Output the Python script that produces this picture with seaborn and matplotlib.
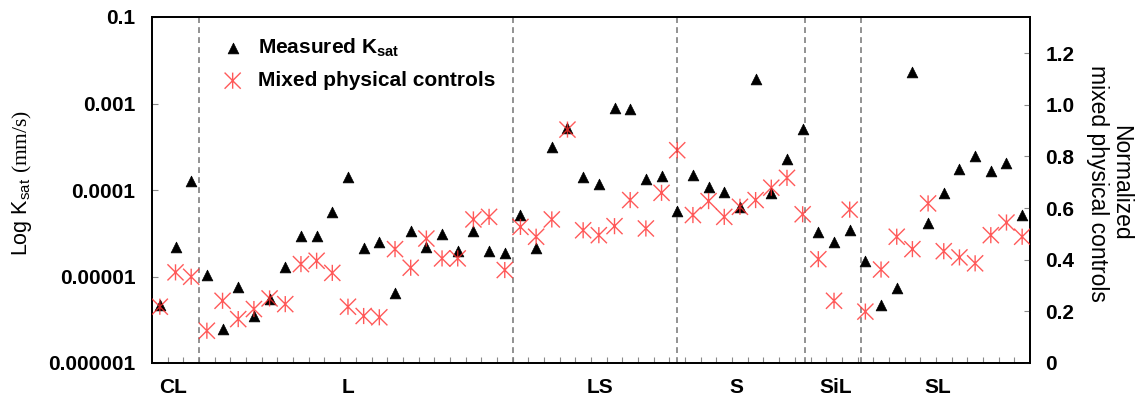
import numpy as np
import pandas as pd
import matplotlib
matplotlib.use("Agg")
import matplotlib.pyplot as plt
from matplotlib.path import Path
from matplotlib.ticker import NullLocator
import seaborn as sns

# ---- data -----------------------------------------------------------------
textures = ["CL", "L", "LS", "S", "SiL", "SL"]
samples_per_texture = [3, 20, 10, 9, 3, 11]

# measured saturated hydraulic conductivity (mm/s)
measured_ksat = [
    4.7e-6, 2.2e-5, 1.28e-4,
    1.05e-5, 2.46e-6, 7.5e-6, 3.5e-6, 5.5e-6, 1.3e-5, 2.94e-5, 2.94e-5, 5.5e-5, 1.4e-4,
    2.12e-5, 2.52e-5, 6.4e-6, 3.36e-5, 2.2e-5, 3.08e-5, 1.99e-5, 3.36e-5, 1.99e-5, 1.85e-5,
    5.14e-5, 2.12e-5, 3.16e-4, 5.16e-4, 1.43e-4, 1.16e-4, 8.95e-4, 8.63e-4, 1.33e-4, 1.45e-4,
    5.77e-5, 1.49e-4, 1.07e-4, 9.55e-5, 6.3e-5, 1.9e-3, 9.3e-5, 2.26e-4, 5.1e-4,
    3.3e-5, 2.52e-5, 3.45e-5,
    1.52e-5, 4.7e-6, 7.3e-6, 2.29e-3, 4.12e-5, 9.3e-5, 1.73e-4, 2.47e-4, 1.67e-4, 2.04e-4, 5.2e-5,
]

# normalized mixed physical controls
mixed_controls = [
    0.218, 0.351, 0.334,
    0.125, 0.241, 0.170, 0.209, 0.250, 0.228, 0.383, 0.396, 0.349, 0.218,
    0.182, 0.177, 0.441, 0.369, 0.482, 0.405, 0.405, 0.556, 0.566, 0.360,
    0.527, 0.489, 0.556, 0.904, 0.514, 0.495, 0.530, 0.631, 0.521, 0.659,
    0.824, 0.573, 0.627, 0.566, 0.605, 0.631, 0.679, 0.717, 0.576,
    0.402, 0.241, 0.594,
    0.199, 0.362, 0.489, 0.441, 0.618, 0.433, 0.409, 0.386, 0.495, 0.544, 0.489,
]

ksat_ticks = [1e-6, 1e-5, 1e-4, 1e-3, 1e-2]
ksat_tick_labels = ["0.000001", "0.00001", "0.0001", "0.001", "0.1"]
control_ticks = [0, 0.2, 0.4, 0.6, 0.8, 1.0, 1.2]
control_tick_labels = ["0", "0.2", "0.4", "0.6", "0.8", "1.0", "1.2"]

# ---- layout ---------------------------------------------------------------
texture_label_pos = [0.85, 12.0, 28.05, 36.75, 43.1, 49.6]
divider_pos = [2.5, 22.5, 33.0, 41.15, 44.72]

df = pd.DataFrame({
    "sample": np.arange(len(measured_ksat)),
    "texture": np.repeat(textures, samples_per_texture),
    "ksat": measured_ksat,
    "controls": mixed_controls,
})

sns.set_style("white")
plt.rcParams["font.family"] = ["Liberation Sans", "DejaVu Sans"]
plt.rcParams["mathtext.fontset"] = "custom"
plt.rcParams["mathtext.rm"] = "Liberation Serif"
plt.rcParams["mathtext.sf"] = "Liberation Sans"
plt.rcParams["mathtext.bf"] = "Liberation Sans:bold"
for key in ("text.color", "axes.labelcolor", "xtick.labelcolor", "ytick.labelcolor"):
    plt.rcParams[key] = "black"

W, H = 1138, 398
fig = plt.figure(figsize=(W / 100, H / 100), dpi=100)
ax = fig.add_axes([152 / W, 35 / H, 878 / W, 346 / H])
ax2 = ax.twinx()

# texture class dividers
for p in divider_pos:
    ax.axvline(p, color="#7f7f7f", lw=1.2, ls=(0, (3.5, 2.5)), zorder=1)

# asterisk marker: vertical bar plus an X
star = Path(
    [(0, -1), (0, 1), (-1, -1), (1, 1), (-1, 1), (1, -1)],
    [Path.MOVETO, Path.LINETO] * 3,
)

sns.scatterplot(
    data=df, x="sample", y="ksat", marker="^", s=60, color="black",
    edgecolor="black", linewidth=0.5, ax=ax, legend=False, zorder=3,
    label="Measured K$_{\\mathbf{sat}}$",
)
sns.scatterplot(
    data=df, x="sample", y="controls", marker=star, s=135, color="#ff3030",
    facecolor="none", edgecolor="#ff3030", linewidth=1.0, alpha=0.8,
    ax=ax2, legend=False, zorder=4, label="Mixed physical controls",
)

# left axis: log K_sat
ax.set_yscale("log")
ax.set_ylim(1e-6, 1e-2)
ax.set_yticks(ksat_ticks, labels=ksat_tick_labels)
ax.yaxis.set_minor_locator(NullLocator())
ax.set_xlim(-0.5, len(measured_ksat) - 0.5)
ax.set_xticks(texture_label_pos, labels=textures)
ax.set_xticks(np.arange(0.5, len(measured_ksat) - 1, 1), minor=True)
ax.set_xlabel("")
ax.set_ylabel("")

# right axis: normalized controls
ax2.set_ylim(0, 1.34)
ax2.set_yticks(control_ticks, labels=control_tick_labels)
ax2.set_ylabel("")

ax.tick_params(axis="x", which="major", length=0, pad=11, labelsize=15,
               labelcolor="black")
ax.tick_params(axis="x", which="minor", direction="in", length=4,
               width=0.8, color="#8a8a8a", bottom=True)
ax.tick_params(axis="y", which="major", direction="in", length=4, width=0.8,
               color="#8a8a8a", pad=12, labelsize=15, labelcolor="black")
ax2.tick_params(axis="y", which="major", direction="in", length=4, width=0.8,
                color="#8a8a8a", pad=11, labelsize=15, labelcolor="black")

for lbl in ax.get_xticklabels() + ax.get_yticklabels() + ax2.get_yticklabels():
    lbl.set_fontweight("bold")

for a in (ax, ax2):
    for s in a.spines.values():
        s.set_color("black")
        s.set_linewidth(1.3)

# axis titles
fig.text(22 / W, 1 - 183 / H, "Log K$_\\mathregular{sat}$ $\\mathrm{(mm/s)}$",
         rotation=90, ha="center", va="center", fontsize=15.5, color="black")
fig.text(1109 / W, 1 - 183 / H, "Normalized\nmixed physical controls",
         rotation=270, ha="center", va="center", fontsize=16.5,
         linespacing=1.05, multialignment="center", color="black")

# legend combining both axes
h1, l1 = ax.get_legend_handles_labels()
h2, l2 = ax2.get_legend_handles_labels()
ax2.legend(h1 + h2, l1 + l2, loc="upper left", bbox_to_anchor=(0.080, 0.945),
           frameon=False, handlelength=1.0, handletextpad=0.7,
           labelspacing=0.6, borderpad=0, borderaxespad=0,
           prop={"weight": "bold", "size": 15})

fig.savefig("out.png", dpi=100)
